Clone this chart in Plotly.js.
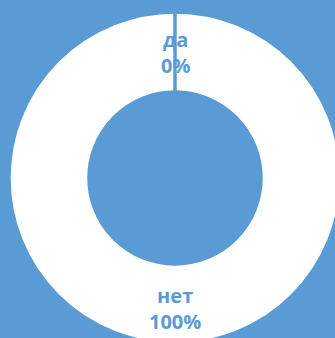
<!DOCTYPE html>
<html>
<head>
<meta charset="utf-8">
<script src="https://cdn.plot.ly/plotly-3.0.1.min.js"></script>
<style>
  html, body { margin: 0; padding: 0; background: #5B9BD5; overflow: hidden; width: 335px; height: 338px; }
  #chart { width: 350px; height: 356px; }
</style>
</head>
<body>
<div id="chart"></div>
<script>
const labels = ["да", "нет"];
const values = [0, 100];

const bg = "#5B9BD5";
const total = values.reduce((a, b) => a + b, 0);

const W = 350, H = 356;
const cx = 175, cy = 178, R = 166, HOLE = 0.518;

const trace = {
  type: "pie",
  labels: labels,
  values: values,
  hole: HOLE,
  sort: false,
  direction: "clockwise",
  rotation: 0,
  textinfo: "none",
  hoverinfo: "none",
  showlegend: false,
  marker: { colors: ["#FFFFFF", "#FFFFFF"], line: { color: bg, width: 3.5 } },
  domain: { x: [(cx - R) / W, (cx + R) / W], y: [(H - cy - R) / H, (H - cy + R) / H] }
};

// slice borders for zero-value slices (drawn from the data)
const shapes = [];
let cum = 0;
values.forEach(v => {
  if (v === 0) {
    const ang = cum / total * 2 * Math.PI; // clockwise from 12 o'clock
    const sx = Math.sin(ang), sy = Math.cos(ang);
    const r0 = R * HOLE, r1 = R + 20;
    shapes.push({
      type: "line", xref: "paper", yref: "paper",
      x0: (cx + r0 * sx) / W, y0: (H - cy + r0 * sy) / H,
      x1: (cx + r1 * sx) / W, y1: (H - cy + r1 * sy) / H,
      line: { color: bg, width: 3.5 }
    });
  }
  cum += v;
});

const pct = values.map(v => Math.round(v / total * 100) + "%");
const font = { family: "Open Sans, sans-serif", size: 20, color: bg };
const annotations = [
  { text: "<b>" + labels[0] + "<br>" + pct[0] + "</b>", x: cx / W, y: (H - 52.5) / H },
  { text: "<b>" + labels[1] + "<br>" + pct[1] + "</b>", x: cx / W, y: (H - 308) / H }
].map(a => Object.assign(a, { xref: "paper", yref: "paper", showarrow: false, font: font, xanchor: "center", yanchor: "middle" }));

Plotly.newPlot("chart", [trace], {
  width: W, height: H,
  margin: { l: 0, r: 0, t: 0, b: 0 },
  paper_bgcolor: bg, plot_bgcolor: bg,
  annotations: annotations,
  shapes: shapes
}, { displayModeBar: false, staticPlot: true });
</script>
</body>
</html>
